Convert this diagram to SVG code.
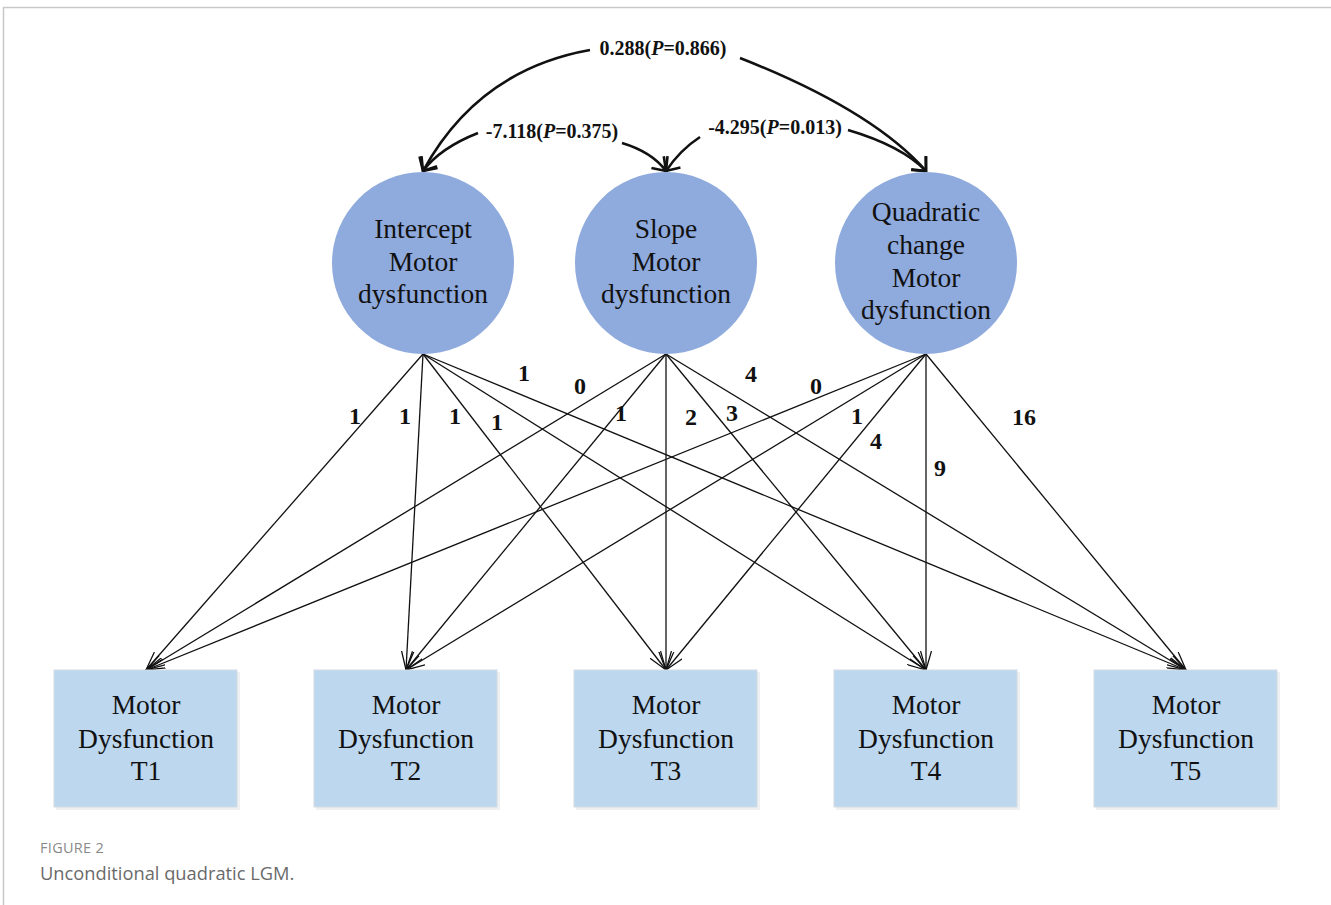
<svg xmlns="http://www.w3.org/2000/svg" width="1331" height="905" viewBox="0 0 1331 905">
<style>
.circ{fill:#8FAADC;}
.box{fill:#BDD7EE;stroke:#d3dbe3;stroke-width:1;}
.shadow{fill:#eef0f2;}
.nt{font-family:"Liberation Serif","Times New Roman",serif;font-size:27.5px;fill:#111;text-anchor:middle;}
.lbl{font-family:"Liberation Serif","Times New Roman",serif;font-size:24px;font-weight:bold;fill:#111;text-anchor:middle;}
.cl{font-family:"Liberation Serif","Times New Roman",serif;font-size:20px;font-weight:bold;fill:#111;text-anchor:middle;}
.ln{stroke:#111;stroke-width:1.3;fill:none;marker-end:url(#ah);}
.cv{stroke:#111;stroke-width:2.6;fill:none;marker-end:url(#ch);}
</style>
<defs>
<marker id="ah" viewBox="0 0 20 12" refX="19" refY="6" markerWidth="20" markerHeight="12" markerUnits="userSpaceOnUse" orient="auto">
<path d="M0,0.5 L19,6 L0,11.5" fill="none" stroke="#111" stroke-width="1.3"/>
</marker>
<marker id="ch" viewBox="0 0 14 22" refX="12" refY="11" markerWidth="14" markerHeight="22" markerUnits="userSpaceOnUse" orient="auto">
<path d="M1,1 L12,11 L1,21" fill="none" stroke="#111" stroke-width="2.6"/>
</marker>
</defs>
<rect width="1331" height="905" fill="#fff"/>
<path d="M3.5,905 L3.5,7.5 L1331,7.5" fill="none" stroke="#c8c8c8" stroke-width="1.5"/>

<g id="connectors">
<path class="cv" d="M590,50 Q478,70 423,171"/>
<path class="cv" d="M740,58 Q872,110 926,171"/>
<path class="cv" d="M478,133 Q440,148 423,171"/>
<path class="cv" d="M622,143 Q652,152 666,171"/>
<path class="cv" d="M700,137 Q680,150 666,171"/>
<path class="cv" d="M848,130 Q902,146 926,171"/>
<line class="ln" x1="423" y1="354" x2="146" y2="670"/>
<line class="ln" x1="423" y1="354" x2="406" y2="670"/>
<line class="ln" x1="423" y1="354" x2="666" y2="670"/>
<line class="ln" x1="423" y1="354" x2="926" y2="670"/>
<line class="ln" x1="423" y1="354" x2="1186" y2="670"/>
<line class="ln" x1="666" y1="354" x2="146" y2="670"/>
<line class="ln" x1="666" y1="354" x2="406" y2="670"/>
<line class="ln" x1="666" y1="354" x2="666" y2="670"/>
<line class="ln" x1="666" y1="354" x2="926" y2="670"/>
<line class="ln" x1="666" y1="354" x2="1186" y2="670"/>
<line class="ln" x1="926" y1="354" x2="146" y2="670"/>
<line class="ln" x1="926" y1="354" x2="406" y2="670"/>
<line class="ln" x1="926" y1="354" x2="666" y2="670"/>
<line class="ln" x1="926" y1="354" x2="926" y2="670"/>
<line class="ln" x1="926" y1="354" x2="1186" y2="670"/>
</g>

<g id="cov-labels">
<text class="cl" x="663" y="55">0.288(<tspan font-style="italic">P</tspan>=0.866)</text>
<text class="cl" x="552" y="138">-7.118(<tspan font-style="italic">P</tspan>=0.375)</text>
<text class="cl" x="775" y="134">-4.295(<tspan font-style="italic">P</tspan>=0.013)</text>
</g>

<g id="loading-labels">
<text class="lbl" x="355" y="424">1</text>
<text class="lbl" x="405" y="424">1</text>
<text class="lbl" x="455" y="424">1</text>
<text class="lbl" x="497" y="430">1</text>
<text class="lbl" x="524" y="381">1</text>
<text class="lbl" x="580" y="394">0</text>
<text class="lbl" x="621" y="421">1</text>
<text class="lbl" x="691" y="425">2</text>
<text class="lbl" x="732" y="421">3</text>
<text class="lbl" x="751" y="382">4</text>
<text class="lbl" x="816" y="394">0</text>
<text class="lbl" x="857" y="424">1</text>
<text class="lbl" x="876" y="449">4</text>
<text class="lbl" x="940" y="476">9</text>
<text class="lbl" x="1024" y="425">16</text>
</g>

<g id="intercept">
<circle class="circ" cx="423" cy="263" r="91"/>
<text class="nt" x="423" y="238">Intercept</text>
<text class="nt" x="423" y="271">Motor</text>
<text class="nt" x="423" y="303">dysfunction</text>
</g>
<g id="slope">
<circle class="circ" cx="666" cy="263" r="91"/>
<text class="nt" x="666" y="238">Slope</text>
<text class="nt" x="666" y="271">Motor</text>
<text class="nt" x="666" y="303">dysfunction</text>
</g>
<g id="quadratic">
<circle class="circ" cx="926" cy="263" r="91"/>
<text class="nt" x="926" y="221">Quadratic</text>
<text class="nt" x="926" y="254">change</text>
<text class="nt" x="926" y="287">Motor</text>
<text class="nt" x="926" y="319">dysfunction</text>
</g>

<g id="t1">
<rect class="shadow" x="56" y="672" width="184" height="138"/>
<rect class="box" x="54" y="670" width="183" height="137"/>
<text class="nt" x="146" y="714">Motor</text>
<text class="nt" x="146" y="748">Dysfunction</text>
<text class="nt" x="146" y="780">T1</text>
</g>
<g id="t2">
<rect class="shadow" x="316" y="672" width="184" height="138"/>
<rect class="box" x="314" y="670" width="183" height="137"/>
<text class="nt" x="406" y="714">Motor</text>
<text class="nt" x="406" y="748">Dysfunction</text>
<text class="nt" x="406" y="780">T2</text>
</g>
<g id="t3">
<rect class="shadow" x="576" y="672" width="184" height="138"/>
<rect class="box" x="574" y="670" width="183" height="137"/>
<text class="nt" x="666" y="714">Motor</text>
<text class="nt" x="666" y="748">Dysfunction</text>
<text class="nt" x="666" y="780">T3</text>
</g>
<g id="t4">
<rect class="shadow" x="836" y="672" width="184" height="138"/>
<rect class="box" x="834" y="670" width="183" height="137"/>
<text class="nt" x="926" y="714">Motor</text>
<text class="nt" x="926" y="748">Dysfunction</text>
<text class="nt" x="926" y="780">T4</text>
</g>
<g id="t5">
<rect class="shadow" x="1096" y="672" width="184" height="138"/>
<rect class="box" x="1094" y="670" width="183" height="137"/>
<text class="nt" x="1186" y="714">Motor</text>
<text class="nt" x="1186" y="748">Dysfunction</text>
<text class="nt" x="1186" y="780">T5</text>
</g>

<g id="caption">
<text x="40" y="853" font-family="'Open Sans','Noto Sans',sans-serif" font-size="14.5" fill="#8a8a8a" letter-spacing="0.3">FIGURE 2</text>
<text x="40" y="880" font-family="'Open Sans','Noto Sans',sans-serif" font-size="18.3" fill="#6a6a6a">Unconditional quadratic LGM.</text>
</g>
</svg>
